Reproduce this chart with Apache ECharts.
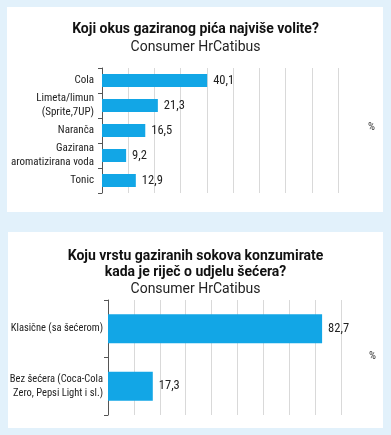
<!DOCTYPE html>
<html><head><meta charset="utf-8">
<script src="https://cdn.jsdelivr.net/npm/echarts@6/dist/echarts.min.js"></script>
<style>html,body{margin:0;padding:0;background:#e2f1fb;}#c{width:391px;height:435px;}</style>
</head><body><div id="c"></div>
<script>
const categories1 = ['Cola', 'Limeta/limun\n(Sprite,7UP)', 'Naranča', 'Gazirana\naromatizirana voda', 'Tonic'];
const values1 = [40.1, 21.3, 16.5, 9.2, 12.9];
const categories2 = ['Klasične (sa šećerom)', 'Bez šećera (Coca-Cola\nZero, Pepsi Light i sl.)'];
const values2 = [82.7, 17.3];
const title1 = 'Koji okus gaziranog pića najviše volite?';
const title2 = 'Koju vrstu gaziranih sokova konzumirate\nkada je riječ o udjelu šećera?';
const subtitle = 'Consumer HrCatibus';

const BAR = '#12a6e6';
const FONT = 'Roboto Condensed';
const chart = echarts.init(document.getElementById('c'));
const fmt = p => String(p.value).replace('.', ',');
const xAx = (gi) => ({
  gridIndex: gi, type: 'value', min: 0, max: 90, interval: 10,
  axisLabel: {show: false}, axisLine: {show: false}, axisTick: {show: false},
  splitLine: {show: true, lineStyle: {color: '#d9d9d9', width: 1}}
});
const yAx = (gi, cats, fs, m) => ({
  gridIndex: gi, type: 'category', data: cats, inverse: true,
  axisLine: {show: true, lineStyle: {color: '#555', width: 1}},
  axisTick: {show: true, length: 4, lineStyle: {color: '#555'}},
  axisLabel: {color: '#222', fontSize: fs, fontFamily: FONT, margin: m, lineHeight: fs + 3, align: 'right', overflow: 'none'}
});
chart.setOption({
  animation: false,
  graphic: [
    {type: 'rect', shape: {x: 7, y: 7, width: 376, height: 205}, style: {fill: '#fff'}, z: -10},
    {type: 'rect', shape: {x: 8, y: 232, width: 375, height: 196}, style: {fill: '#fff'}, z: -10},
    {type: 'text', left: 368, top: 122, style: {text: '%', fontSize: 11, fill: '#333', fontFamily: FONT}},
    {type: 'text', left: 369, top: 351, style: {text: '%', fontSize: 11, fill: '#333', fontFamily: FONT}}
  ],
  title: [
    {text: title1, subtext: subtitle, left: 'center', top: 17, itemGap: 4,
     textStyle: {fontSize: 14, fontWeight: 'bold', color: '#111', fontFamily: 'Roboto'},
     subtextStyle: {fontSize: 14, color: '#222', fontFamily: 'Roboto'}},
    {text: title2, subtext: subtitle, left: 'center', top: 243, itemGap: 2,
     textStyle: {fontSize: 14, fontWeight: 'bold', color: '#111', fontFamily: 'Roboto', lineHeight: 16},
     subtextStyle: {fontSize: 14, color: '#222', fontFamily: 'Roboto'}}
  ],
  grid: [
    {left: 102, right: 53, top: 68, height: 125, outerBoundsMode: 'none'},
    {left: 108, right: 50, top: 300, height: 115, outerBoundsMode: 'none'}
  ],
  xAxis: [xAx(0), xAx(1)],
  yAxis: [yAx(0, categories1, 11, 8), yAx(1, categories2, 10.5, 5)],
  series: [
    {type: 'bar', xAxisIndex: 0, yAxisIndex: 0, data: values1, barWidth: 13,
     itemStyle: {color: BAR},
     label: {show: true, position: 'right', distance: 6, formatter: fmt, color: '#222', fontSize: 12.5, fontFamily: FONT}},
    {type: 'bar', xAxisIndex: 1, yAxisIndex: 1, data: values2, barWidth: 29,
     itemStyle: {color: BAR},
     label: {show: true, position: 'right', distance: 6, formatter: fmt, color: '#222', fontSize: 12.5, fontFamily: FONT}}
  ]
});
</script></body></html>
